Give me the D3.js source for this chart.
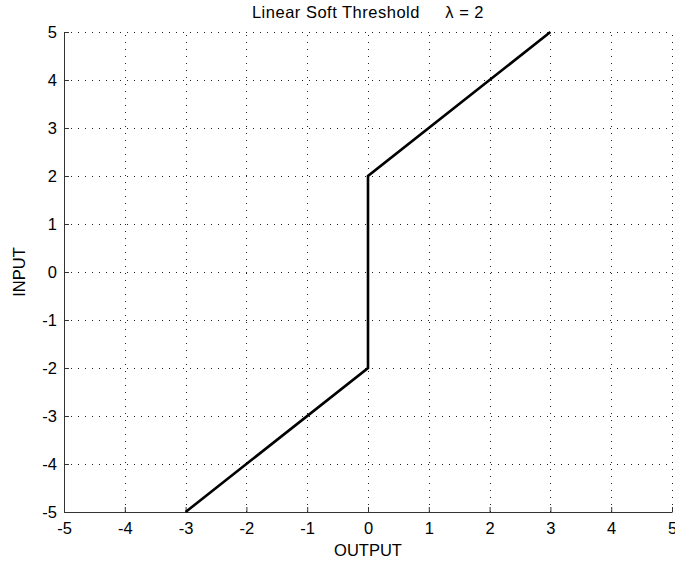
<!DOCTYPE html>
<html><head><meta charset="utf-8">
<script src="https://cdn.jsdelivr.net/npm/d3@7"></script>
<style>body{margin:0;background:#fff}</style>
</head><body>
<script>
const lineX = [-3, 0, 0, 3];
const lineY = [-5, -2, 2, 5];
const xTicks = [-5,-4,-3,-2,-1,0,1,2,3,4,5];
const yTicks = [-5,-4,-3,-2,-1,0,1,2,3,4,5];
const titleText = "Linear Soft Threshold     \u03BB = 2";
const xLabel = "OUTPUT", yLabel = "INPUT";

const W = 675, H = 565;
const FS = 16.5;
const m = {l:64, r:3, t:32, b:53};
const svg = d3.select("body").append("svg").attr("width", W).attr("height", H)
  .style("font-family", "Liberation Sans, Arial, sans-serif");
const x = d3.scaleLinear().domain([-5,5]).range([m.l, W-m.r]);
const y = d3.scaleLinear().domain([-5,5]).range([H-m.b, m.t]);
const fmt = d => String(d);

const grid = svg.append("g").attr("stroke", "#222").attr("stroke-width", 1).attr("stroke-dasharray", "1,6").attr("shape-rendering","crispEdges");
xTicks.slice(1).forEach(v => grid.append("line").attr("x1", Math.round(x(v))+0.5).attr("x2", Math.round(x(v))+0.5).attr("y1", y(-5)).attr("y2", y(5)));
yTicks.slice(1).forEach(v => grid.append("line").attr("y1", Math.round(y(v))+0.5).attr("y2", Math.round(y(v))+0.5).attr("x1", x(-5)).attr("x2", x(5)));

const xa = svg.append("g").attr("transform", `translate(0,${y(-5)})`)
  .call(d3.axisBottom(x).tickValues(xTicks).tickFormat(fmt).tickSizeInner(-5).tickSizeOuter(0));
const ya = svg.append("g").attr("transform", `translate(${x(-5)},0)`)
  .call(d3.axisLeft(y).tickValues(yTicks).tickFormat(fmt).tickSizeInner(-5).tickSizeOuter(0).tickPadding(7));
[xa, ya].forEach(a => {
  a.select(".domain").attr("stroke", "#333");
  a.selectAll(".tick line").attr("stroke", "#333");
  a.selectAll("text").attr("font-size", FS).attr("fill", "#000").attr("font-family", "Liberation Sans, Arial, sans-serif");
});
xa.selectAll("text").attr("y", 22).attr("dy", 0);

svg.append("path").datum(lineX.map((v,i)=>[v, lineY[i]]))
  .attr("fill","none").attr("stroke","#000").attr("stroke-width", 2.6)
  .attr("d", d3.line().x(d=>x(d[0])).y(d=>y(d[1])));

svg.append("text").attr("x", (x(-5)+x(5))/2).attr("y", 18).attr("text-anchor","middle")
  .attr("font-size", FS).attr("letter-spacing", 0.5).style("white-space","pre").text(titleText);
svg.append("text").attr("x", (x(-5)+x(5))/2).attr("y", 556).attr("text-anchor","middle")
  .attr("font-size", FS).text(xLabel);
svg.append("text").attr("transform", `translate(25,${(y(-5)+y(5))/2}) rotate(-90)`).attr("text-anchor","middle")
  .attr("font-size", FS).text(yLabel);
</script>
</body></html>
